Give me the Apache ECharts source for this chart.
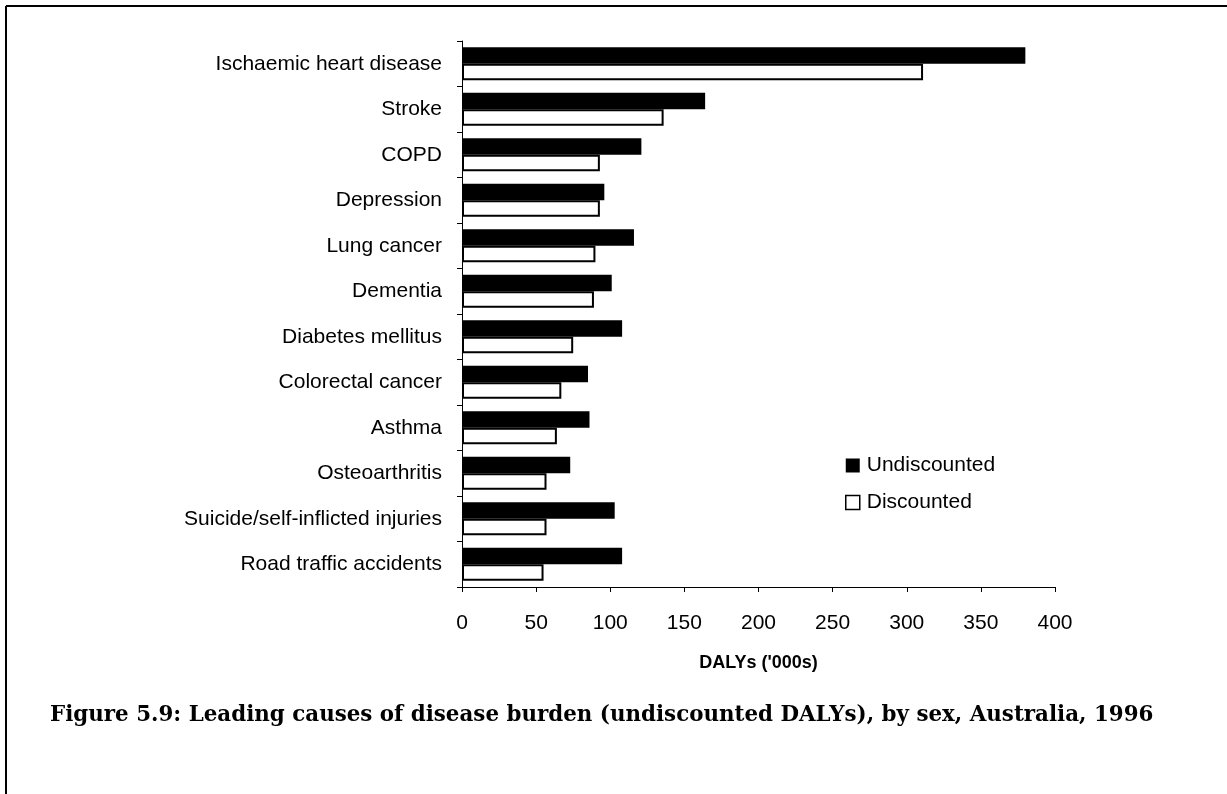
<!DOCTYPE html>
<html>
<head>
<meta charset="utf-8">
<title>Figure 5.9</title>
<script src="https://cdn.jsdelivr.net/npm/echarts@6/dist/echarts.min.js"></script>
<style>
  html, body { margin: 0; padding: 0; background: #fff; }
  #chart { width: 1227px; height: 794px; }
</style>
</head>
<body>
<div id="chart"></div>
<script>
// data, '000s of DALYs
var causes = ['Ischaemic heart disease', 'Stroke', 'COPD', 'Depression', 'Lung cancer', 'Dementia',
  'Diabetes mellitus', 'Colorectal cancer', 'Asthma', 'Osteoarthritis',
  'Suicide/self-inflicted injuries', 'Road traffic accidents'];
var undiscounted = [380, 164, 121, 96, 116, 101, 108, 85, 86, 73, 103, 108];
var discounted = [311, 136, 93, 93, 90, 89, 75, 67, 64, 57, 57, 55];
var xTicks = { min: 0, max: 400, step: 50 };

var chart = echarts.init(document.getElementById('chart'));
var font = '"Liberation Sans", Arial, sans-serif';

var option = {
  backgroundColor: '#fff',
  animation: false,
  grid: { left: 462, right: 172, top: 41, bottom: 207 },
  legend: {
    orient: 'vertical',
    left: 840,
    top: 450,
    itemWidth: 14,
    itemHeight: 14,
    itemGap: 16,
    textStyle: { fontFamily: font, fontSize: 21, color: '#000', padding: [0, 0, 0, 2] },
    data: [
      { name: 'Undiscounted', icon: 'rect', itemStyle: { color: '#000', borderWidth: 0 } },
      { name: 'Discounted', icon: 'rect', itemStyle: { color: '#fff', borderColor: '#000', borderWidth: 1.5 } }
    ]
  },
  xAxis: {
    type: 'value',
    min: xTicks.min,
    max: xTicks.max,
    interval: xTicks.step,
    name: "DALYs ('000s)",
    nameLocation: 'middle',
    nameGap: 67,
    nameTextStyle: { fontFamily: font, fontSize: 18, fontWeight: 'bold', color: '#000' },
    axisLine: { show: true, lineStyle: { color: '#000', width: 1 } },
    axisTick: { show: true, length: 5, lineStyle: { color: '#000' } },
    axisLabel: { margin: 26, fontFamily: font, fontSize: 21, color: '#000' },
    splitLine: { show: false }
  },
  yAxis: {
    type: 'category',
    inverse: true,
    data: causes,
    axisLine: { show: true, lineStyle: { color: '#000', width: 1 } },
    axisTick: { show: true, length: 5, lineStyle: { color: '#000' } },
    axisLabel: { margin: 20, fontFamily: font, fontSize: 21, color: '#000' }
  },
  series: [
    {
      name: 'Undiscounted',
      type: 'bar',
      data: undiscounted,
      barGap: '0%',
      barCategoryGap: '27%',
      itemStyle: { color: '#000' }
    },
    {
      name: 'Discounted',
      type: 'bar',
      data: discounted,
      itemStyle: { color: '#fff', borderColor: '#000', borderWidth: 2 }
    }
  ],
  title: {
    text: 'Figure 5.9: Leading causes of disease burden (undiscounted DALYs), by sex, Australia, 1996',
    left: 45,
    top: 700,
    textStyle: { fontFamily: '"DejaVu Serif", serif', fontSize: 21.4, fontWeight: 'bold', color: '#000' }
  },
  graphic: [
    { type: 'line', shape: { x1: 6, y1: 6, x2: 1227, y2: 6 }, style: { stroke: '#000', lineWidth: 2 } },
    { type: 'line', shape: { x1: 6, y1: 6, x2: 6, y2: 794 }, style: { stroke: '#000', lineWidth: 2 } }
  ]
};

chart.setOption(option);
window.addEventListener('resize', function () {
  chart.resize();
});
</script>
</body>
</html>
